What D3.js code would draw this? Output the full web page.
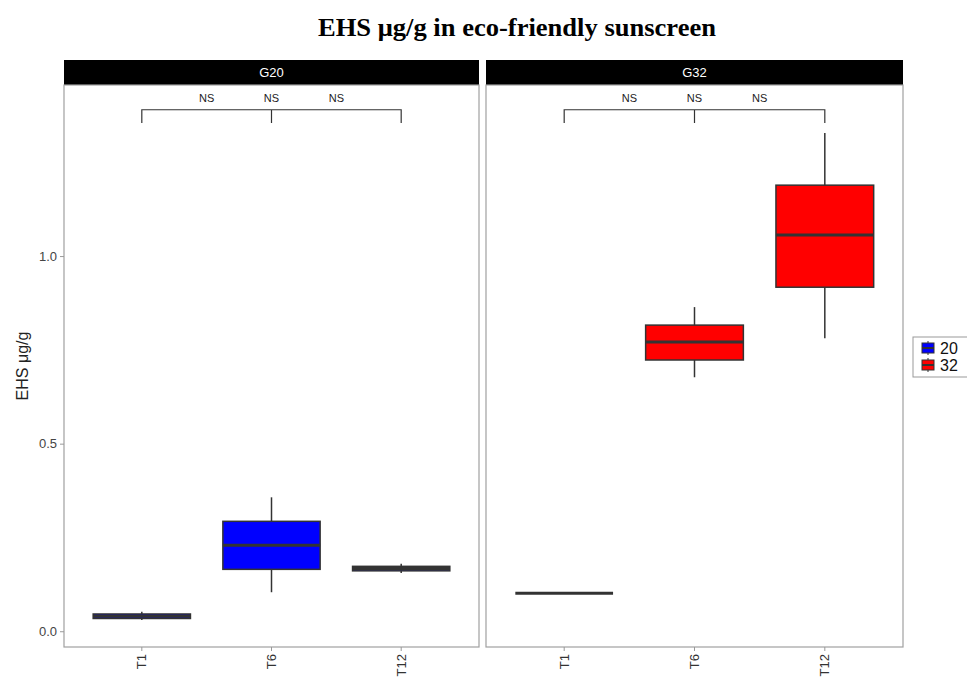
<!DOCTYPE html>
<html>
<head>
<meta charset="utf-8">
<script src="https://cdn.jsdelivr.net/npm/d3@7"></script>
<style>
  body { margin: 0; background: #fff; }
  svg { display: block; }
</style>
</head>
<body>
<svg id="chart" width="967" height="678"></svg>
<script>
// EHS concentration boxplots, faceted by temperature group
const panels = ['G20', 'G32'];
const times = ['T1', 'T6', 'T12'];
const groupColors = { '20': '#0000ff', '32': '#ff0000' };
const yTicks = [0.0, 0.5, 1.0];
// five-number summaries: [min, q1, median, q3, max]
const statsG20 = [
  [0.030, 0.034, 0.040, 0.046, 0.052],
  [0.104, 0.165, 0.229, 0.293, 0.357],
  [0.155, 0.161, 0.167, 0.173, 0.180]
];
const statsG32 = [
  [0.101, 0.101, 0.101, 0.101, 0.101],
  [0.677, 0.723, 0.771, 0.816, 0.864],
  [0.781, 0.917, 1.056, 1.189, 1.328]
];
const sigLabels = ['NS', 'NS', 'NS'];
const bracketY = 1.39, bracketTip = 1.355;

const svg = d3.select('#chart');
const pTop = 85, pBottom = 647, stripH = 25;
const panelX = [[64, 479], [486, 903]];
const y = d3.scaleLinear().domain([-0.042, 1.456]).range([pBottom, pTop]);

svg.append('text').attr('x', 517).attr('y', 36).attr('text-anchor', 'middle')
  .attr('font-family', 'Liberation Serif, Times New Roman, serif').attr('font-weight', 'bold')
  .attr('font-size', 25).attr('textLength', 398).attr('lengthAdjust', 'spacingAndGlyphs')
  .text('EHS μg/g in eco-friendly sunscreen');

svg.append('text').attr('transform', `translate(28,${(pTop + pBottom) / 2}) rotate(-90)`)
  .attr('text-anchor', 'middle').attr('font-family', 'Liberation Sans, Arial, sans-serif')
  .attr('font-size', 16).attr('fill', '#222').text('EHS μg/g');

const allStats = [statsG20, statsG32];
const fills = [groupColors['20'], groupColors['32']];

panels.forEach((p, i) => {
  const [x0, x1] = panelX[i];
  const x = d3.scaleBand().domain(times).range([x0, x1]).paddingInner(0).paddingOuter(0.1);
  const xc = t => x(t) + x.bandwidth() / 2;
  const bw = x.bandwidth() * 0.75;
  const g = svg.append('g');

  // strip
  g.append('rect').attr('x', x0).attr('y', pTop - stripH).attr('width', x1 - x0).attr('height', stripH).attr('fill', '#000');
  g.append('text').attr('x', (x0 + x1) / 2).attr('y', pTop - 8).attr('text-anchor', 'middle')
    .attr('font-family', 'Liberation Sans, Arial, sans-serif').attr('font-size', 13).attr('fill', '#fff').text(p);

  // panel border
  g.append('rect').attr('x', x0).attr('y', pTop).attr('width', x1 - x0).attr('height', pBottom - pTop)
    .attr('fill', 'none').attr('stroke', '#a0a0a0').attr('stroke-width', 1.2);

  // x axis
  const xa = g.append('g').attr('transform', `translate(0,${pBottom})`)
    .call(d3.axisBottom(x).tickSize(4).tickSizeOuter(0));
  xa.select('.domain').remove();
  xa.selectAll('line').attr('stroke', '#999');
  xa.selectAll('text').attr('transform', 'rotate(-90)').attr('text-anchor', 'end')
    .attr('x', -7).attr('y', 0).attr('dy', '0.35em')
    .attr('font-family', 'Liberation Sans, Arial, sans-serif').attr('font-size', 13).attr('fill', '#333');

  if (i === 0) {
    const ya = g.append('g').attr('transform', `translate(${x0},0)`)
      .call(d3.axisLeft(y).tickValues(yTicks).tickFormat(d3.format('.1f')).tickSize(4));
    ya.select('.domain').remove();
    ya.selectAll('line').attr('stroke', '#999');
    ya.selectAll('text').attr('font-family', 'Liberation Sans, Arial, sans-serif')
      .attr('font-size', 13).attr('fill', '#444');
  }

  // boxes
  allStats[i].forEach((s, j) => {
    const cx = xc(times[j]);
    const [mn, q1, md, q3, mx] = s;
    g.append('line').attr('x1', cx).attr('x2', cx).attr('y1', y(mx)).attr('y2', y(mn))
      .attr('stroke', '#333').attr('stroke-width', 1.5);
    g.append('rect').attr('x', cx - bw / 2).attr('y', y(q3)).attr('width', bw)
      .attr('height', Math.max(0, y(q1) - y(q3)))
      .attr('fill', fills[i]).attr('stroke', '#333').attr('stroke-width', 1.5);
    g.append('line').attr('x1', cx - bw / 2).attr('x2', cx + bw / 2).attr('y1', y(md)).attr('y2', y(md))
      .attr('stroke', '#333').attr('stroke-width', 3);
  });

  // significance brackets
  const bx = times.map(xc);
  g.append('path')
    .attr('d', `M${bx[0]},${y(bracketTip)}V${y(bracketY)}H${bx[2]}V${y(bracketTip)}M${bx[1]},${y(bracketY)}V${y(bracketTip)}`)
    .attr('fill', 'none').attr('stroke', '#333').attr('stroke-width', 1.2);
  const labX = [(bx[0] + bx[1]) / 2, bx[1], (bx[1] + bx[2]) / 2];
  sigLabels.forEach((l, k) => {
    g.append('text').attr('x', labX[k]).attr('y', y(bracketY) - 8).attr('text-anchor', 'middle')
      .attr('font-family', 'Liberation Sans, Arial, sans-serif').attr('font-size', 11).attr('fill', '#222').text(l);
  });
});

// legend (clipped at right edge as in the reference)
const leg = svg.append('g').attr('transform', 'translate(913,337)');
leg.append('rect').attr('x', 0).attr('y', 0).attr('width', 70).attr('height', 40)
  .attr('fill', '#fff').attr('stroke', '#999');
Object.keys(groupColors).forEach((k, i) => {
  const ky = 3 + i * 17;
  leg.append('line').attr('x1', 15).attr('x2', 15).attr('y1', ky + 1).attr('y2', ky + 15).attr('stroke', '#333').attr('stroke-width', 1);
  leg.append('rect').attr('x', 9).attr('y', ky + 3).attr('width', 12).attr('height', 10)
    .attr('fill', groupColors[k]).attr('stroke', '#333').attr('stroke-width', 1);
  leg.append('line').attr('x1', 9).attr('x2', 21).attr('y1', ky + 8).attr('y2', ky + 8).attr('stroke', '#333').attr('stroke-width', 2);
  leg.append('text').attr('x', 27).attr('y', ky + 14).attr('font-family', 'Liberation Sans, Arial, sans-serif')
    .attr('font-size', 16).attr('fill', '#111').text(k);
});
</script>
</body>
</html>
